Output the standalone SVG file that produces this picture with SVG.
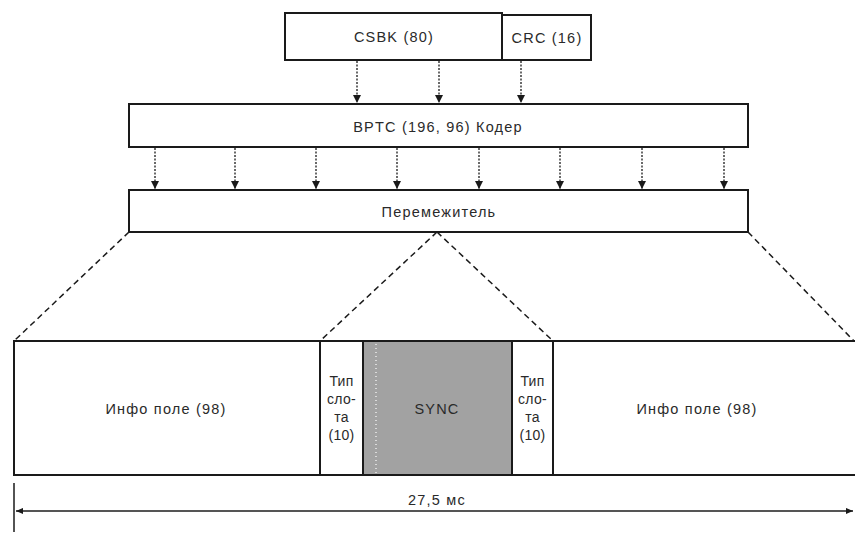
<svg xmlns="http://www.w3.org/2000/svg" width="855" height="538" viewBox="0 0 855 538">
<defs>
<marker id="ah" viewBox="0 0 8 10" refX="8" refY="5" markerWidth="8" markerHeight="10" markerUnits="userSpaceOnUse" orient="auto">
<path d="M0,1 L8,5 L0,9 Z" fill="#1a1a1a"/>
</marker>
<marker id="dh" viewBox="0 0 8 8" refX="8" refY="4" markerWidth="7" markerHeight="7" markerUnits="userSpaceOnUse" orient="auto-start-reverse">
<path d="M0,0.5 L8,4 L0,7.5 Z" fill="#1a1a1a"/>
</marker>
</defs>
<style>
.box{fill:#fff;stroke:#1a1a1a;stroke-width:2}
.sync{fill:#a2a2a2;stroke:#1a1a1a;stroke-width:2}
.t{font-family:"Liberation Sans",Arial,sans-serif;font-size:14.5px;letter-spacing:1.2px;fill:#2a2a2a;text-anchor:middle;dominant-baseline:central}
.s{font-family:"Liberation Sans",Arial,sans-serif;font-size:14px;letter-spacing:0.3px;fill:#2a2a2a;text-anchor:middle;dominant-baseline:central}
.arr{stroke:#1a1a1a;stroke-width:1.3;stroke-dasharray:2,1.5;fill:none;marker-end:url(#ah)}
.dash{stroke:#1a1a1a;stroke-width:1.5;stroke-dasharray:6,4;fill:none}
</style>
<rect width="855" height="538" fill="#fff"/>
<g id="csbk"><rect class="box" x="285" y="13" width="217" height="47"/><text class="t" x="394" y="37">CSBK (80)</text></g>
<g id="crc"><rect class="box" x="502" y="15" width="89" height="45"/><text class="t" x="547" y="38">CRC (16)</text></g>
<g id="bptc"><rect class="box" x="129" y="104" width="619" height="43"/><text class="t" x="438" y="127">BPTC (196, 96) Кодер</text></g>
<g id="interleaver"><rect class="box" x="129" y="190" width="619" height="42"/><text class="t" x="439" y="212">Перемежитель</text></g>
<g id="info-left"><rect class="box" x="14" y="341" width="306" height="134"/><text class="t" x="166" y="409">Инфо поле (98)</text></g>
<g id="slot-left"><rect class="box" x="320" y="341" width="43" height="134"/>
<text class="s" x="341.5" y="381">Тип</text><text class="s" x="341.5" y="399">сло-</text><text class="s" x="341.5" y="417">та</text><text class="s" x="341.5" y="435">(10)</text></g>
<g id="sync"><rect class="sync" x="363" y="341" width="149" height="134"/>
<line x1="376" y1="344" x2="376" y2="473" stroke="#fff" stroke-width="1.2" stroke-dasharray="1,3"/>
<text class="t" x="437" y="409">SYNC</text></g>
<g id="slot-right"><rect class="box" x="512" y="341" width="41" height="134"/>
<text class="s" x="532.5" y="381">Тип</text><text class="s" x="532.5" y="399">сло-</text><text class="s" x="532.5" y="417">та</text><text class="s" x="532.5" y="435">(10)</text></g>
<g id="info-right"><rect class="box" x="553" y="341" width="304" height="134"/><text class="t" x="697" y="409">Инфо поле (98)</text></g>
<g id="connectors">
<line class="arr" x1="357" y1="61" x2="357" y2="103"/>
<line class="arr" x1="439" y1="61" x2="439" y2="103"/>
<line class="arr" x1="521" y1="61" x2="521" y2="103"/>
<line class="arr" x1="155" y1="148" x2="155" y2="189"/>
<line class="arr" x1="235" y1="148" x2="235" y2="189"/>
<line class="arr" x1="316" y1="148" x2="316" y2="189"/>
<line class="arr" x1="397" y1="148" x2="397" y2="189"/>
<line class="arr" x1="479" y1="148" x2="479" y2="189"/>
<line class="arr" x1="560" y1="148" x2="560" y2="189"/>
<line class="arr" x1="642" y1="148" x2="642" y2="189"/>
<line class="arr" x1="724" y1="148" x2="724" y2="189"/>
<line class="dash" x1="129" y1="232" x2="14" y2="341"/>
<line class="dash" x1="437" y1="232" x2="320" y2="341"/>
<line class="dash" x1="437" y1="232" x2="553" y2="341"/>
<line class="dash" x1="748" y1="232" x2="854" y2="341"/>
</g>
<g id="dimension">
<line x1="14" y1="483" x2="14" y2="532" stroke="#1a1a1a" stroke-width="1.5"/>
<line x1="16" y1="511" x2="853" y2="511" stroke="#555" stroke-width="2" marker-start="url(#dh)" marker-end="url(#dh)"/>
<text class="t" x="437" y="500">27,5 мс</text>
</g>
</svg>
